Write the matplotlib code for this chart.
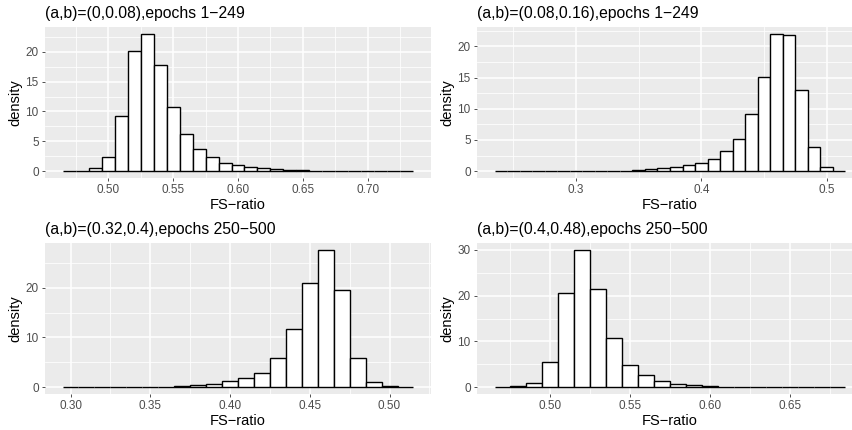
import numpy as np
import matplotlib
matplotlib.use("Agg")
import matplotlib.pyplot as plt

plt.rcParams['font.family'] = ['Liberation Sans', 'DejaVu Sans']

# histogram densities, binwidth 0.01, first value is the first bin centre
titles = ["(a,b)=(0,0.08),epochs 1\u2212249",
          "(a,b)=(0.08,0.16),epochs 1\u2212249",
          "(a,b)=(0.32,0.4),epochs 250\u2212500",
          "(a,b)=(0.4,0.48),epochs 250\u2212500"]

first1 = 0.47
dens1 = [0.05, 0.1, 0.5, 2.4, 9.2, 20.2, 23.0, 17.7, 10.8, 6.2, 3.7, 2.35, 1.4,
         0.95, 0.68, 0.45, 0.32, 0.2, 0.15, 0.08, 0.05, 0.04, 0.03, 0.03, 0.02,
         0.02, 0.02]

first2 = 0.24
dens2 = [0.01, 0.01, 0.01, 0.02, 0.02, 0.02, 0.03, 0.04, 0.05, 0.08, 0.1, 0.16,
         0.27, 0.43, 0.65, 0.92, 1.35, 1.95, 3.24, 5.2, 9.2, 15.1, 22.0, 21.8,
         13.0, 3.8, 0.7, 0.05]

first3 = 0.30
dens3 = [0.02, 0.02, 0.02, 0.03, 0.05, 0.07, 0.1, 0.25, 0.45, 0.7, 1.15, 1.8,
         2.9, 5.85, 11.6, 21.0, 27.6, 19.6, 5.85, 1.0, 0.15, 0.05]

first4 = 0.47
dens4 = [0.05, 0.15, 0.9, 5.6, 20.5, 30.0, 21.5, 10.8, 4.9, 2.6, 1.35, 0.75,
         0.45, 0.2, 0.12, 0.08, 0.06, 0.05, 0.04, 0.03, 0.03, 0.03]

xticks = [[0.50, 0.55, 0.60, 0.65, 0.70],
          [0.3, 0.4, 0.5],
          [0.30, 0.35, 0.40, 0.45, 0.50],
          [0.50, 0.55, 0.60, 0.65]]
xticklabels = [["0.50", "0.55", "0.60", "0.65", "0.70"],
               ["0.3", "0.4", "0.5"],
               ["0.30", "0.35", "0.40", "0.45", "0.50"],
               ["0.50", "0.55", "0.60", "0.65"]]
yticks = [[0, 5, 10, 15, 20],
          [0, 5, 10, 15, 20],
          [0, 10, 20],
          [0, 10, 20, 30]]

firsts = [first1, first2, first3, first4]
dens = [dens1, dens2, dens3, dens4]
binw = 0.01

W, H = 852, 430
fig = plt.figure(figsize=(W / 100, H / 100), dpi=100)

# panel boxes in pixels: left, top, right, bottom
# (right column runs past the figure edge, the original is cropped there)
boxes = [(45, 27, 431, 178), (477, 27, 863, 178),
         (45, 243, 431, 394), (477, 243, 863, 394)]

bg = '#EBEBEB'
for k in range(4):
    l, t, r, b = boxes[k]
    ax = fig.add_axes([l / W, (H - b) / H, (r - l) / W, (b - t) / H])
    ax.set_facecolor(bg)
    for s in ax.spines.values():
        s.set_visible(False)

    d = np.array(dens[k])
    centres = firsts[k] + binw * np.arange(len(d))
    lo = centres[0] - binw / 2
    hi = centres[-1] + binw / 2
    xr = hi - lo
    xlim = (lo - 0.05 * xr, hi + 0.05 * xr)
    ymax = d.max()
    ylim = (-0.05 * ymax, ymax * 1.05)
    ax.set_xlim(xlim)
    ax.set_ylim(ylim)

    # grid: major + minor, ggplot style
    xt = xticks[k]
    xstep = xt[1] - xt[0]
    xminor = [xt[0] - xstep / 2] + [v + xstep / 2 for v in xt]
    yt = yticks[k]
    ystep = yt[1] - yt[0]
    yminor = [v + ystep / 2 for v in yt]
    for v in xminor:
        if xlim[0] < v < xlim[1]:
            ax.axvline(v, color='white', lw=0.55, zorder=0)
    for v in yminor:
        if ylim[0] < v < ylim[1]:
            ax.axhline(v, color='white', lw=0.55, zorder=0)
    for v in xt:
        ax.axvline(v, color='white', lw=1.1, zorder=0)
    for v in yt:
        ax.axhline(v, color='white', lw=1.1, zorder=0)

    ax.bar(centres, d, width=binw, color='white', edgecolor='black',
           linewidth=1.0, zorder=2)

    ax.set_xticks(xt)
    ax.set_xticklabels(xticklabels[k])
    ax.set_yticks(yt)
    ax.tick_params(axis='both', length=2.5, width=0.6, color='#333333',
                   labelcolor='#4D4D4D', labelsize=8.5, pad=2)
    ax.set_xlabel("FS\u2212ratio", fontsize=10.5, labelpad=1)
    ax.set_ylabel("density", fontsize=10.5, labelpad=2)
    ax.set_title(titles[k], loc='left', fontsize=11.3, pad=6.5)

plt.savefig("out.png", dpi=100)
